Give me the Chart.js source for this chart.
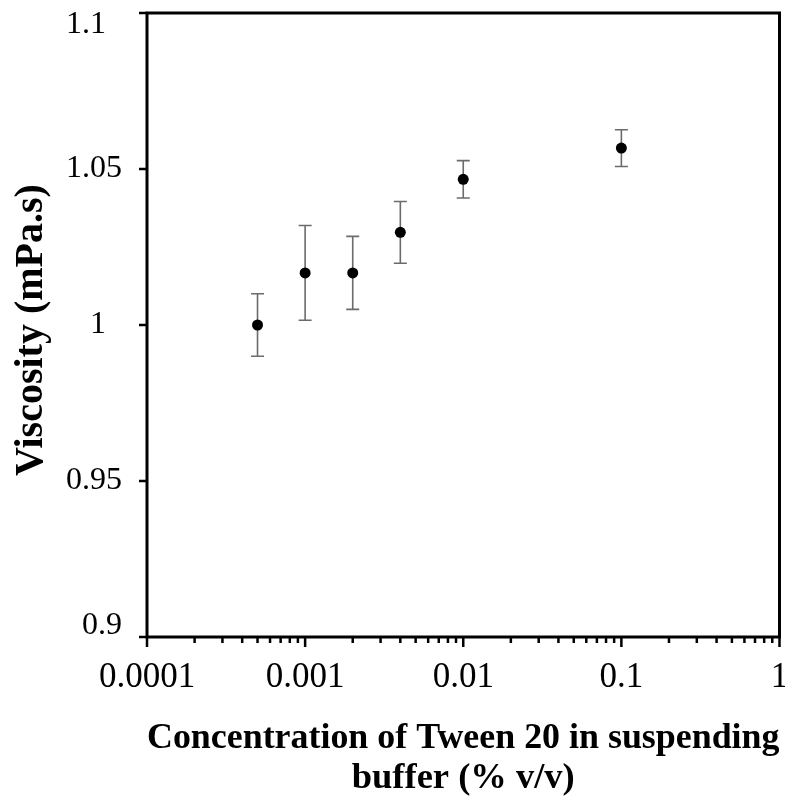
<!DOCTYPE html>
<html lang="en">
<head>
  <meta charset="UTF-8" />
  <title>Viscosity vs Tween 20 concentration</title>
  <script src="https://cdn.jsdelivr.net/npm/chart.js"></script>
  <style>
    html, body { margin: 0; padding: 0; background: #fff; }
    #wrap { width: 785px; height: 799px; }
  </style>
</head>
<body>
  <div id="wrap"><canvas id="chart" width="785" height="799"></canvas></div>

  <script>
    // data
    const concentration = [0.0005, 0.001, 0.002, 0.004, 0.01, 0.1];
    const viscosity = [1.000, 1.0167, 1.0167, 1.0297, 1.0467, 1.0567];
    const viscosityErr = [0.010, 0.0152, 0.0117, 0.0099, 0.006, 0.0059];

    const xDecades = [0.0001, 0.001, 0.01, 0.1, 1];
    const xDecadeLabels = ["0.0001", "0.001", "0.01", "0.1", "1"];
    const xMinorSteps = [2, 3, 4, 5, 6, 7, 8, 9];
    const yTicks = [0.9, 0.95, 1, 1.05, 1.1];
    const yTickLabels = ["0.9", "0.95", "1  ", "1.05", "1.1  "];

    const FONT = "'Liberation Serif', 'Times New Roman', serif";

    function isDecade(v) {
      return xDecades.some(d => Math.abs(d - v) / d < 1e-6);
    }

    // frame, tick marks, y labels (kept inside the frame height) and error bars
    const decorPlugin = {
      id: "decor",
      beforeDatasetsDraw(chart) {
        const { ctx } = chart;
        const xs = chart.scales.x, ys = chart.scales.y;
        ctx.save();
        ctx.strokeStyle = "#6b6b6b";
        ctx.lineWidth = 1.6;
        concentration.forEach((c, i) => {
          const px = xs.getPixelForValue(c);
          const top = ys.getPixelForValue(viscosity[i] + viscosityErr[i]);
          const bot = ys.getPixelForValue(viscosity[i] - viscosityErr[i]);
          ctx.beginPath();
          ctx.moveTo(px, top); ctx.lineTo(px, bot);
          ctx.moveTo(px - 6.5, top); ctx.lineTo(px + 6.5, top);
          ctx.moveTo(px - 6.5, bot); ctx.lineTo(px + 6.5, bot);
          ctx.stroke();
        });
        ctx.restore();
      },
      afterDraw(chart) {
        const { ctx, chartArea: a } = chart;
        const xs = chart.scales.x, ys = chart.scales.y;
        ctx.save();
        ctx.strokeStyle = "#000";
        ctx.lineWidth = 2.5;
        ctx.beginPath();
        yTicks.forEach(v => {
          const py = ys.getPixelForValue(v);
          ctx.moveTo(a.left - 8, py); ctx.lineTo(a.left, py);
        });
        xs.ticks.forEach(t => {
          const px = xs.getPixelForValue(t.value);
          const len = isDecade(t.value) ? 10 : 6;
          ctx.moveTo(px, a.bottom); ctx.lineTo(px, a.bottom + len);
        });
        ctx.stroke();
        ctx.lineWidth = 3;
        ctx.strokeRect(a.left, a.top, a.right - a.left, a.bottom - a.top);

        ctx.fillStyle = "#000";
        ctx.font = "32px " + FONT;
        ctx.textAlign = "right";
        ctx.textBaseline = "middle";
        yTicks.forEach((v, i) => {
          let py = ys.getPixelForValue(v);
          py = Math.min(Math.max(py, a.top + 12), a.bottom - 11);
          ctx.fillText(yTickLabels[i], a.left - 25, py);
        });
        ctx.restore();
      }
    };

    new Chart(document.getElementById("chart"), {
      type: "scatter",
      data: {
        datasets: [{
          label: "Viscosity",
          data: concentration.map((c, i) => ({ x: c, y: viscosity[i] })),
          backgroundColor: "#000",
          borderColor: "#000",
          borderWidth: 0,
          pointRadius: 5.5,
          showLine: false
        }]
      },
      options: {
        responsive: false,
        animation: false,
        layout: { padding: { top: 13, right: 5, left: 0, bottom: 0 } },
        plugins: { legend: { display: false }, tooltip: { enabled: false } },
        scales: {
          x: {
            type: "logarithmic",
            min: 0.0001,
            max: 1,
            grid: { display: false, drawTicks: false },
            border: { display: false },
            afterBuildTicks: scale => {
              const ticks = [];
              xDecades.forEach((d, i) => {
                ticks.push({ value: d });
                if (i < xDecades.length - 1) xMinorSteps.forEach(m => ticks.push({ value: d * m }));
              });
              scale.ticks = ticks;
            },
            afterFit: scale => {
              scale.height = 162;
              scale.paddingLeft = 0;
              scale.paddingRight = 0;
            },
            ticks: {
              autoSkip: false,
              maxRotation: 0,
              padding: 20,
              color: "#000",
              font: { family: FONT, size: 35 },
              callback: v => {
                const i = xDecades.findIndex(d => Math.abs(d - v) / d < 1e-6);
                return i >= 0 ? xDecadeLabels[i] : "";
              }
            },
            title: {
              display: true,
              text: ["Concentration of Tween 20 in suspending", "buffer (% v/v)"],
              color: "#000",
              font: { family: FONT, size: 36.5, weight: "bold", lineHeight: 1.08 },
              padding: { top: 0, bottom: 1 }
            }
          },
          y: {
            min: 0.9,
            max: 1.1,
            grid: { display: false, drawTicks: false },
            border: { display: false },
            afterBuildTicks: scale => { scale.ticks = yTicks.map(v => ({ value: v })); },
            afterFit: scale => {
              scale.width = 147;
              scale.paddingTop = 0;
              scale.paddingBottom = 0;
            },
            ticks: { display: false },
            title: {
              display: true,
              text: "Viscosity (mPa.s) ",
              color: "#000",
              font: { family: FONT, size: 40, weight: "bold" },
              padding: { top: 8, bottom: 0 }
            }
          }
        }
      },
      plugins: [decorPlugin]
    });
  </script>
</body>
</html>
